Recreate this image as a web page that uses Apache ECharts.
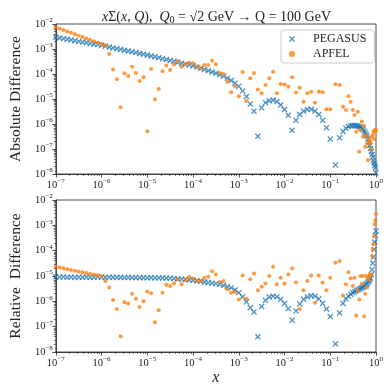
<!DOCTYPE html>
<html>
<head>
<meta charset="utf-8">
<script src="https://cdn.jsdelivr.net/npm/echarts/dist/echarts.min.js"></script>
<style>
  html, body { margin: 0; padding: 0; background: #fff; }
  #chart { width: 390px; height: 390px; }
</style>
</head>
<body>
<div id="chart"></div>
<script>
// x grid: 12 points per decade from 1e-7 to 1e-1, then linear up to 1
const xs = [
  1e-7, 1.21e-7, 1.47e-7, 1.78e-7, 2.15e-7, 2.61e-7, 3.16e-7, 3.83e-7, 4.64e-7, 5.62e-7, 6.81e-7, 8.25e-7,
  1e-6, 1.21e-6, 1.47e-6, 1.78e-6, 2.15e-6, 2.61e-6, 3.16e-6, 3.83e-6, 4.64e-6, 5.62e-6, 6.81e-6, 8.25e-6,
  1e-5, 1.21e-5, 1.47e-5, 1.78e-5, 2.15e-5, 2.61e-5, 3.16e-5, 3.83e-5, 4.64e-5, 5.62e-5, 6.81e-5, 8.25e-5,
  1e-4, 1.21e-4, 1.47e-4, 1.78e-4, 2.15e-4, 2.61e-4, 3.16e-4, 3.83e-4, 4.64e-4, 5.62e-4, 6.81e-4, 8.25e-4,
  1e-3, 1.21e-3, 1.47e-3, 1.78e-3, 2.15e-3, 2.61e-3, 3.16e-3, 3.83e-3, 4.64e-3, 5.62e-3, 6.81e-3, 8.25e-3,
  1e-2, 1.21e-2, 1.47e-2, 1.78e-2, 2.15e-2, 2.61e-2, 3.16e-2, 3.83e-2, 4.64e-2, 5.62e-2, 6.81e-2, 8.25e-2, 0.1,
  0.13, 0.16, 0.19, 0.22, 0.25, 0.28, 0.31, 0.34, 0.37, 0.40, 0.43, 0.46, 0.49, 0.52, 0.55,
  0.58, 0.61, 0.64, 0.67, 0.70, 0.73, 0.76, 0.79, 0.82, 0.85, 0.88, 0.91, 0.94, 0.97, 1.0
];

// absolute difference
const absPegasus = [
  2.95e-3, 2.75e-3, 2.6e-3, 2.45e-3, 2.3e-3, 2.15e-3, 2.0e-3, 1.9e-3, 1.8e-3, 1.65e-3, 1.55e-3, 1.5e-3,
  1.4e-3, 1.3e-3, 1.2e-3, 1.1e-3, 1.03e-3, 9.6e-4, 8.9e-4, 8.3e-4, 7.7e-4, 7.2e-4, 6.6e-4, 6.2e-4,
  5.75e-4, 5.25e-4, 4.9e-4, 4.5e-4, 4.1e-4, 3.8e-4, 3.5e-4, 3.2e-4, 2.95e-4, 2.7e-4, 2.45e-4, 2.3e-4,
  2.1e-4, 1.9e-4, 1.7e-4, 1.5e-4, 1.35e-4, 1.2e-4, 1.07e-4, 9.3e-5, 8.1e-5, 6.8e-5, 5.5e-5, 4.3e-5,
  3.2e-5, 2.1e-5, 1.26e-5, 6.3e-6, 3.2e-6, 3.2e-7, 4.5e-6, 7.1e-6, 8.5e-6, 9.1e-6, 7.9e-6, 5.75e-6,
  3.8e-6, 2.24e-6, 5.6e-7, 1.4e-6, 2.4e-6, 3.3e-6, 3.8e-6, 3.9e-6, 3.3e-6, 2.4e-6, 1.4e-6, 7.1e-7, 2.5e-7,
  2.3e-8, 2.8e-7, 5.0e-7, 6.8e-7, 7.9e-7, 8.5e-7, 8.7e-7, 8.7e-7, 8.5e-7, 8.3e-7, 7.9e-7, 7.4e-7, 6.8e-7, 6.0e-7, 5.2e-7,
  4.5e-7, 3.8e-7, 3.2e-7, 2.5e-7, 1.9e-7, 1.4e-7, 1.05e-7, 7.9e-8, 6.0e-8, 4.7e-8, 3.5e-8, 2.8e-8, 2.2e-8, 1.8e-8, 1.1e-8
];
const absApfel = [
  7.4e-3, 6.5e-3, 5.75e-3, 5.0e-3, 4.5e-3, 3.9e-3, 3.4e-3, 3.0e-3, 2.65e-3, 2.35e-3, 2.05e-3, 1.8e-3,
  1.6e-3, 1.4e-3, 6.3e-4, 1.5e-4, 6.2e-5, 4.7e-6, 1.07e-4, 8.3e-5, 1.95e-4, 1.1e-4, 5.2e-5, 7.4e-5,
  5.1e-7, 1.6e-4, 9.8e-6, 2.5e-5, 1.3e-4, 2.2e-4, 1.45e-4, 2.4e-4, 3.2e-4, 1.95e-4, 2.5e-4, 2.8e-4,
  2.7e-4, 2.0e-4, 1.7e-4, 2.3e-4, 2.3e-4, 3.4e-4, 2.45e-4, 1.1e-4, 9.8e-5, 4.9e-5, 1.86e-5, 3.2e-5,
  1.3e-5, 1.2e-4, 8.3e-6, 6.8e-5, 1.1e-4, 2.4e-5, 1.7e-5, 3.6e-5, 6.8e-5, 1.23e-4, 1.7e-5, 4.0e-5,
  3.8e-5, 3.1e-5, 7.4e-5, 1.8e-5, 2.8e-5, 7.8e-6, 1.7e-5, 1.95e-5, 7.1e-6, 1.95e-5, 1.86e-5, 3.9e-6, 3.9e-6,
  3.9e-5, 3.6e-5, 4.9e-6, 3.6e-6, 1.3e-5, 7.8e-6, 3.6e-6, 2.3e-6, 4.9e-7, 3.1e-6, 7.8e-8, 5.75e-7, 1.26e-6, 3.1e-7, 8.3e-7,
  1.23e-7, 3.6e-7, 1.7e-7, 3.6e-8, 2.7e-7, 1.95e-7, 1.7e-7, 1.0e-7, 3.1e-7, 3.6e-7, 4.9e-7, 2.5e-7, 5.75e-7, 5.0e-7, 5.75e-7
];

// relative difference
const relPegasus = [
  9.3e-6, 9.0e-6, 9.2e-6, 8.9e-6, 9.1e-6, 8.8e-6, 9.0e-6, 8.9e-6, 9.1e-6, 8.8e-6, 9.0e-6, 9.2e-6,
  9.0e-6, 8.8e-6, 9.0e-6, 8.9e-6, 8.8e-6, 8.9e-6, 8.7e-6, 8.8e-6, 8.7e-6, 8.6e-6, 8.7e-6, 8.6e-6,
  8.5e-6, 8.6e-6, 8.5e-6, 8.4e-6, 8.4e-6, 8.3e-6, 8.2e-6, 7.9e-6, 7.7e-6, 7.5e-6, 7.3e-6, 7.0e-6,
  6.8e-6, 6.5e-6, 6.2e-6, 5.8e-6, 5.5e-6, 5.2e-6, 5.0e-6, 4.7e-6, 4.3e-6, 3.8e-6, 3.4e-6, 2.8e-6,
  2.2e-6, 1.5e-6, 9.5e-7, 5.6e-7, 3.8e-7, 4.0e-8, 6.3e-7, 1.1e-6, 1.48e-6, 1.6e-6, 1.5e-6, 1.2e-6,
  8.3e-7, 5.2e-7, 1.8e-7, 4.2e-7, 7.9e-7, 1.2e-6, 1.5e-6, 1.66e-6, 1.6e-6, 1.26e-6, 8.3e-7, 5.0e-7, 2.5e-7,
  2.1e-8, 3.5e-7, 8.3e-7, 1.26e-6, 1.6e-6, 1.9e-6, 2.2e-6, 2.4e-6, 2.6e-6, 2.8e-6, 3.0e-6, 3.2e-6, 3.4e-6, 3.6e-6, 3.9e-6,
  4.3e-6, 4.7e-6, 5.1e-6, 5.75e-6, 6.3e-6, 7.1e-6, 8.3e-6, 1.12e-5, 1.8e-5, 3.2e-5, 5.6e-5, 1.12e-4, 2.2e-4, 4.0e-4, 6.0e-4
];
const relApfel = [
  2.3e-5, 2.15e-5, 2.0e-5, 1.86e-5, 1.74e-5, 1.62e-5, 1.5e-5, 1.4e-5, 1.3e-5, 1.23e-5, 1.15e-5, 1.07e-5,
  1.0e-5, 6.3e-6, 3.5e-6, 1.12e-6, 5.0e-7, 4.2e-8, 9.3e-7, 8.3e-7, 2.0e-6, 1.26e-6, 6.0e-7, 1.0e-6,
  2.45e-6, 2.1e-6, 1.5e-7, 4.4e-7, 2.2e-6, 4.5e-6, 4.0e-6, 5.1e-6, 7.4e-6, 4.7e-6, 6.8e-6, 9.1e-6,
  7.9e-6, 6.3e-6, 6.3e-6, 8.5e-6, 9.3e-6, 1.55e-5, 1.15e-5, 5.75e-6, 6.3e-6, 3.0e-6, 2.2e-6, 2.35e-6,
  1.17e-6, 1.05e-5, 1.26e-6, 7.4e-6, 1.26e-5, 2.75e-6, 3.8e-6, 5.1e-6, 1.0e-5, 2.3e-5, 4.7e-6, 8.5e-6,
  5.1e-6, 1.15e-5, 2.0e-5, 5.5e-6, 5.0e-7, 2.75e-6, 6.3e-6, 1.05e-5, 8.7e-7, 1.05e-5, 5.5e-6, 2.75e-6, 8.5e-6,
  3.3e-5, 3.9e-5, 1.7e-6, 4.7e-6, 1.4e-5, 7.9e-6, 4.0e-6, 8.5e-6, 2.75e-7, 2.75e-6, 1.17e-6, 1.0e-5, 5.0e-6, 1.0e-5, 2.6e-7,
  2.0e-6, 1.0e-5, 3.5e-6, 7.9e-6, 7.1e-6, 1.15e-5, 1.0e-5, 1.15e-5, 6.2e-5, 1.12e-4, 1.8e-4, 3.8e-4, 1.1e-3, 1.6e-3, 2.8e-3
];

// tick label exponents
const xTickExp = [-7, -6, -5, -4, -3, -2, -1, 0];
const yTickExp = [-8, -7, -6, -5, -4, -3, -2];

const serif = 'Liberation Serif';
const ink = '#222';
const blue = '#1f77b4';
const orange = '#ff7f0e';
const crossPath = 'path://M0,1.5L1.5,0L5,3.5L8.5,0L10,1.5L6.5,5L10,8.5L8.5,10L5,6.5L1.5,10L0,8.5L3.5,5Z';

// minor log ticks at 2..9 x 10^e
function minorTicks(exps) {
  const out = [];
  for (let k = 0; k < exps.length - 1; k++) {
    for (let m = 2; m <= 9; m++) out.push(m * Math.pow(10, exps[k]));
  }
  return out;
}

function pow10Label(list) {
  return function (v) {
    const e = Math.round(Math.log10(v));
    if (list.indexOf(e) < 0) return '';
    return '{b|10}{s|' + (e < 0 ? '\u2212' + (-e) : e) + '}';
  };
}
const labelRich = {
  b: { fontFamily: serif, fontSize: 10.5, color: ink },
  s: { fontFamily: serif, fontSize: 7, color: ink, padding: [0, 0, 7, 0] }
};
const tickLine = { color: ink, width: 0.8 };

function xAxesFor(idx, withName) {
  return [{
    type: 'log', gridIndex: idx, logBase: 10, min: 1e-7, max: 1, splitNumber: 7,
    name: withName ? 'x' : '',
    nameLocation: 'middle', nameGap: 18,
    nameTextStyle: { fontFamily: serif, fontStyle: 'italic', fontSize: 16, color: ink },
    axisLine: { lineStyle: tickLine },
    axisTick: { length: 3.5, lineStyle: tickLine },
    splitLine: { show: false },
    axisLabel: { formatter: pow10Label(xTickExp), rich: labelRich, margin: 4 }
  }, {
    type: 'log', gridIndex: idx, logBase: 10, min: 1e-7, max: 1, position: 'bottom',
    axisLine: { show: false },
    axisTick: { length: 2, lineStyle: { color: ink, width: 0.6 }, customValues: minorTicks(xTickExp) },
    axisLabel: { show: false },
    splitLine: { show: false }
  }];
}
function yAxesFor(idx, name) {
  return [{
    type: 'log', gridIndex: idx, logBase: 10, min: 1e-8, max: 1e-2, splitNumber: 6,
    name: name, nameLocation: 'middle', nameGap: 26, nameRotate: 90,
    nameTextStyle: { fontFamily: serif, fontSize: 15.5, color: ink },
    axisLine: { lineStyle: tickLine },
    axisTick: { length: 3.5, lineStyle: tickLine },
    splitLine: { show: false },
    axisLabel: { formatter: pow10Label(yTickExp), rich: labelRich, margin: 3 }
  }, {
    type: 'log', gridIndex: idx, logBase: 10, min: 1e-8, max: 1e-2, position: 'left',
    axisLine: { show: false },
    axisTick: { length: 2, lineStyle: { color: ink, width: 0.6 }, customValues: minorTicks(yTickExp) },
    axisLabel: { show: false },
    splitLine: { show: false }
  }];
}

function pairs(ys) {
  return xs.map((x, i) => [x, ys[i]]);
}

let myChart = echarts.init(document.getElementById('chart'), null, { renderer: 'canvas' });
let option = {
  backgroundColor: '#fff',
  animation: false,
  title: {
    text: '{i|x}{n|\u03A3(}{i|x}{n|, }{i|Q}{n|),  }{i|Q}{sub|0}{n| = \u221A2 GeV \u2192 Q = 100 GeV}',
    left: 211.5, textAlign: 'center', top: 4,
    textStyle: {
      fontWeight: 'normal',
      rich: {
        n: { fontFamily: serif, fontSize: 14, fontWeight: 'normal', color: ink },
        i: { fontFamily: serif, fontSize: 14, fontWeight: 'normal', fontStyle: 'italic', color: ink },
        sub: { fontFamily: serif, fontSize: 10, fontWeight: 'normal', color: ink, padding: [6, 0, 0, 0] }
      }
    }
  },
  legend: {
    orient: 'vertical', left: 281, top: 30,
    padding: [3, 8, 3, 8], itemGap: 3,
    itemWidth: 12, itemHeight: 6,
    borderColor: '#ccc', borderWidth: 1, borderRadius: 3,
    backgroundColor: 'rgba(255,255,255,0.85)',
    textStyle: { fontFamily: serif, fontSize: 12, color: ink, padding: [0, 0, 0, 10] },
    data: ['PEGASUS', 'APFEL']
  },
  grid: [
    { left: 47, top: 24, width: 329, height: 150, show: true, borderColor: ink, borderWidth: 0.8 },
    { left: 47, top: 200, width: 329, height: 152, show: true, borderColor: ink, borderWidth: 0.8 }
  ],
  xAxis: xAxesFor(0, false).concat(xAxesFor(1, true)),
  yAxis: yAxesFor(0, 'Absolute Difference').concat(yAxesFor(1, 'Relative  Difference')),
  series: [
    {
      name: 'PEGASUS', type: 'scatter', xAxisIndex: 0, yAxisIndex: 0,
      symbol: crossPath, symbolSize: 6, itemStyle: { color: blue },
      data: pairs(absPegasus), z: 2
    },
    {
      name: 'APFEL', type: 'scatter', xAxisIndex: 0, yAxisIndex: 0,
      symbol: 'circle', symbolSize: 4, itemStyle: { color: orange },
      data: pairs(absApfel), z: 3
    },
    {
      name: 'PEGASUS', type: 'scatter', xAxisIndex: 2, yAxisIndex: 2,
      symbol: crossPath, symbolSize: 6, itemStyle: { color: blue },
      data: pairs(relPegasus), z: 2
    },
    {
      name: 'APFEL', type: 'scatter', xAxisIndex: 2, yAxisIndex: 2,
      symbol: 'circle', symbolSize: 4, itemStyle: { color: orange },
      data: pairs(relApfel), z: 3
    }
  ]
};
myChart.setOption(option);
</script>
</body>
</html>
